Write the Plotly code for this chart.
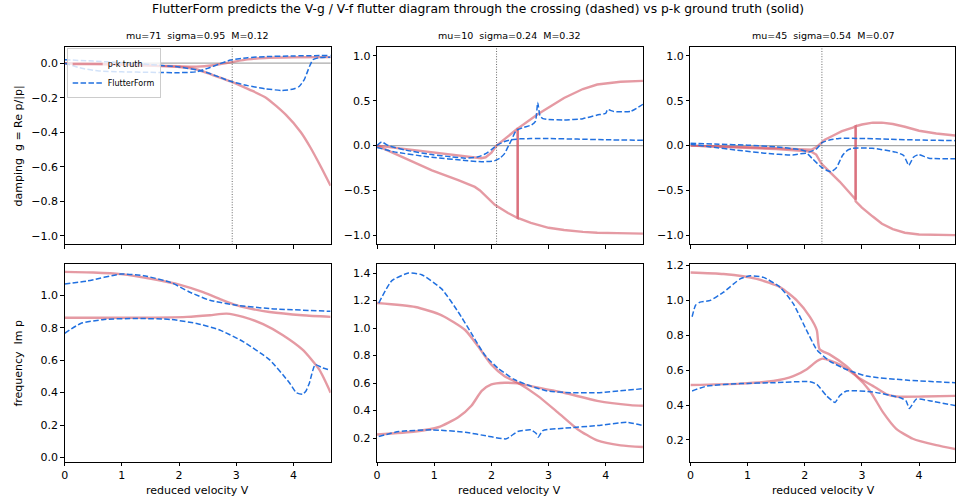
import plotly.graph_objects as go

# ---------------- data ----------------
# Top row: damping g = Re p/|p| ; bottom row: frequency Im p
panel_titles = ["mu=71  sigma=0.95  M=0.12", "mu=10  sigma=0.24  M=0.32", "mu=45  sigma=0.54  M=0.07"]
crossing_V = [2.93, 2.09, 2.30]

# Panel 1 (mu=71)
tl_truth1_V = [0, 0.5, 1.0, 1.5, 2.0, 2.3, 2.6, 2.9, 3.2, 3.5, 4.0, 4.65]
tl_truth1_g = [0.0, -0.003, -0.008, -0.013, -0.018, -0.02, -0.012, 0.005, 0.022, 0.03, 0.034, 0.035]
tl_truth2_V = [0, 0.5, 1.0, 1.5, 2.0, 2.3, 2.6, 2.9, 3.23, 3.52, 3.87, 4.13, 4.3, 4.48, 4.65]
tl_truth2_g = [0.0, -0.005, -0.01, -0.015, -0.022, -0.035, -0.07, -0.105, -0.153, -0.2, -0.3, -0.4, -0.49, -0.6, -0.71]
tl_model1_V = [0, 0.5, 1.0, 1.5, 2.0, 2.4, 2.7, 2.9, 3.2, 3.5, 3.8, 4.0, 4.1, 4.19, 4.28, 4.34, 4.45, 4.65]
tl_model1_g = [0.02, 0.012, 0.003, -0.008, -0.022, -0.045, -0.08, -0.105, -0.13, -0.148, -0.158, -0.15, -0.135, -0.095, -0.02, 0.02, 0.032, 0.035]
tl_model2_V = [0, 0.3, 0.6, 1.0, 1.5, 2.0, 2.3, 2.5, 2.7, 2.9, 3.2, 3.5, 4.0, 4.65]
tl_model2_g = [0.0, -0.03, -0.045, -0.05, -0.053, -0.055, -0.05, -0.03, -0.005, 0.018, 0.032, 0.038, 0.042, 0.045]

bl_truth1_V = [0, 0.5, 0.98, 1.56, 2.02, 2.42, 2.77, 3.0, 3.3, 3.58, 4.16, 4.65]
bl_truth1_f = [1.146, 1.142, 1.132, 1.10, 1.065, 1.02, 0.97, 0.94, 0.915, 0.898, 0.878, 0.868]
bl_truth2_V = [0, 1.0, 2.14, 2.54, 2.83, 3.12, 3.47, 3.81, 4.16, 4.45, 4.65]
bl_truth2_f = [0.862, 0.862, 0.868, 0.878, 0.888, 0.868, 0.823, 0.756, 0.665, 0.543, 0.40]
bl_model1_V = [0, 0.4, 0.98, 1.38, 1.85, 2.19, 2.54, 3.0, 3.58, 4.65]
bl_model1_f = [1.071, 1.09, 1.132, 1.122, 1.081, 1.02, 0.97, 0.94, 0.919, 0.902]
bl_model2_V = [0, 0.28, 0.69, 1.27, 1.85, 2.31, 2.71, 3.12, 3.58, 3.93, 4.05, 4.16, 4.22, 4.28, 4.38, 4.51, 4.65]
bl_model2_f = [0.766, 0.827, 0.852, 0.858, 0.852, 0.827, 0.787, 0.715, 0.604, 0.461, 0.40, 0.39, 0.41, 0.46, 0.573, 0.553, 0.539]

# Panel 2 (mu=10)
tm_truth1_V = [0, 0.4, 0.8, 1.2, 1.6, 1.82, 1.9, 2.0, 2.09, 2.2, 2.35, 2.46, 2.46, 2.69, 3.0, 3.27, 3.6, 3.85, 4.2, 4.65]
tm_truth1_g = [0, -0.03, -0.06, -0.09, -0.123, -0.14, -0.13, -0.08, 0.0, 0.055, 0.13, 0.19, -0.806, -0.86, -0.915, -0.94, -0.96, -0.97, -0.975, -0.98]
tm_truth2_V = [0, 0.38, 0.96, 1.42, 1.71, 1.8, 1.88, 2.06, 2.29, 2.46, 2.46, 2.81, 3.27, 3.6, 3.85, 4.26, 4.65]
tm_truth2_g = [0, -0.11, -0.275, -0.385, -0.46, -0.5, -0.55, -0.66, -0.75, -0.806, 0.19, 0.35, 0.53, 0.63, 0.68, 0.71, 0.72]
tm_model1_V = [0, 0.08, 0.2, 0.5, 0.96, 1.3, 1.54, 1.77, 1.9, 2.0, 2.1, 2.23, 2.35, 2.5, 2.69, 3.0, 3.5, 4.0, 4.65]
tm_model1_g = [0, 0.04, 0.0, -0.05, -0.10, -0.125, -0.14, -0.125, -0.09, -0.045, 0.005, 0.045, 0.065, 0.075, 0.078, 0.078, 0.072, 0.065, 0.059]
tm_model2_V = [0, 0.3, 0.96, 1.54, 1.83, 2.05, 2.15, 2.23, 2.3, 2.35, 2.43, 2.55, 2.7, 2.77, 2.81, 2.85, 2.9, 3.0, 3.27, 3.6, 3.85, 4.0, 4.03, 4.14, 4.43, 4.65]
tm_model2_g = [-0.02, -0.07, -0.13, -0.165, -0.18, -0.17, -0.14, -0.09, 0.0, 0.06, 0.165, 0.2, 0.23, 0.27, 0.48, 0.33, 0.30, 0.29, 0.285, 0.3, 0.34, 0.36, 0.40, 0.38, 0.38, 0.46]

bm_truth1_V = [0, 0.67, 1.13, 1.54, 1.77, 2.0, 2.23, 2.46, 2.81, 3.16, 3.5, 3.85, 4.26, 4.65]
bm_truth1_f = [1.182, 1.153, 1.093, 0.986, 0.866, 0.734, 0.65, 0.602, 0.507, 0.387, 0.267, 0.183, 0.147, 0.135]
bm_truth2_V = [0, 0.67, 1.07, 1.42, 1.65, 1.83, 2.0, 2.23, 2.46, 2.69, 3.27, 3.85, 4.43, 4.65]
bm_truth2_f = [0.226, 0.248, 0.279, 0.351, 0.435, 0.543, 0.59, 0.602, 0.598, 0.578, 0.53, 0.471, 0.44, 0.435]
bm_model1_V = [0.03, 0.26, 0.55, 0.78, 1.13, 1.42, 1.65, 1.88, 2.11, 2.4, 2.69, 2.98, 3.39, 3.85, 4.65]
bm_model1_f = [1.182, 1.345, 1.40, 1.388, 1.285, 1.117, 0.962, 0.806, 0.71, 0.626, 0.578, 0.543, 0.53, 0.53, 0.559]
bm_model2_V = [0.03, 0.38, 0.96, 1.54, 1.94, 2.26, 2.46, 2.69, 2.78, 2.82, 2.9, 3.27, 3.85, 4.37, 4.65]
bm_model2_f = [0.212, 0.248, 0.26, 0.243, 0.214, 0.195, 0.248, 0.26, 0.236, 0.207, 0.255, 0.272, 0.291, 0.315, 0.291]

# Panel 3 (mu=45)
tr_truth1_V = [0, 0.5, 1.0, 1.5, 2.0, 2.12, 2.2, 2.26, 2.35, 2.49, 2.65, 2.84, 2.89, 2.89, 3.0, 3.19, 3.35, 3.54, 3.75, 4.0, 4.3, 4.65]
tr_truth1_g = [0.0, -0.008, -0.017, -0.028, -0.042, -0.045, -0.02, 0.018, 0.065, 0.11, 0.16, 0.2, 0.215, -0.62, -0.69, -0.79, -0.87, -0.93, -0.97, -0.99, -0.995, -0.997]
tr_truth2_V = [0, 0.5, 1.0, 1.5, 2.0, 2.12, 2.2, 2.29, 2.45, 2.61, 2.75, 2.89, 2.89, 3.0, 3.19, 3.35, 3.54, 3.75, 4.0, 4.3, 4.65]
tr_truth2_g = [0.0, -0.012, -0.025, -0.038, -0.06, -0.07, -0.1, -0.2, -0.3, -0.4, -0.5, -0.6, 0.215, 0.235, 0.256, 0.255, 0.24, 0.21, 0.165, 0.135, 0.11]
tr_model1_V = [0, 0.5, 1.0, 1.5, 1.91, 2.08, 2.2, 2.31, 2.45, 2.6, 2.95, 3.5, 4.0, 4.65]
tr_model1_g = [0.025, 0.015, 0.005, -0.015, -0.044, -0.07, -0.04, 0.035, 0.065, 0.08, 0.08, 0.07, 0.062, 0.055]
tr_model2_V = [0, 0.3, 0.87, 1.3, 1.79, 2.03, 2.14, 2.29, 2.4, 2.46, 2.55, 2.66, 2.75, 2.84, 3.18, 3.59, 3.73, 3.82, 3.9, 3.99, 4.17, 4.65]
tr_model2_g = [0.015, -0.01, -0.055, -0.085, -0.105, -0.085, -0.15, -0.24, -0.28, -0.29, -0.25, -0.11, -0.05, -0.03, -0.03, -0.073, -0.11, -0.22, -0.13, -0.10, -0.14, -0.146]

br_truth1_V = [0, 0.58, 1.16, 1.57, 1.86, 2.09, 2.21, 2.26, 2.44, 2.73, 2.93, 3.19, 3.43, 3.6, 4.07, 4.65]
br_truth1_f = [1.16, 1.151, 1.123, 1.075, 1.0, 0.906, 0.83, 0.72, 0.689, 0.623, 0.56, 0.51, 0.462, 0.449, 0.449, 0.453]
br_truth2_V = [0, 0.87, 1.45, 1.8, 2.03, 2.21, 2.31, 2.61, 2.9, 3.14, 3.37, 3.6, 3.89, 4.3, 4.65]
br_truth2_f = [0.515, 0.523, 0.538, 0.566, 0.604, 0.651, 0.666, 0.632, 0.566, 0.481, 0.358, 0.264, 0.207, 0.17, 0.147]
br_model1_V = [0.03, 0.09, 0.17, 0.35, 0.58, 0.87, 1.05, 1.28, 1.57, 1.8, 2.03, 2.21, 2.44, 2.73, 3.08, 3.77, 4.65]
br_model1_f = [0.906, 0.972, 0.99, 1.0, 1.047, 1.123, 1.141, 1.132, 1.075, 0.981, 0.83, 0.717, 0.651, 0.604, 0.566, 0.543, 0.528]
br_model2_V = [0.03, 0.29, 0.87, 1.45, 2.09, 2.21, 2.38, 2.53, 2.61, 2.73, 3.19, 3.66, 3.77, 3.83, 3.95, 4.18, 4.65]
br_model2_f = [0.481, 0.509, 0.523, 0.528, 0.534, 0.519, 0.453, 0.415, 0.453, 0.481, 0.475, 0.443, 0.425, 0.381, 0.434, 0.425, 0.396]

# ---------------- figure ----------------
W, H = 956, 503
TRUTH = dict(color="rgba(212,86,102,0.6)", width=2.4)
MODEL = dict(color="#2070e0", width=1.5, dash="5.5px,2.4px")
FONT = "DejaVu Sans, Verdana, sans-serif"
TICK_SIZE = 11
LABEL_SIZE = 11
SUBTITLE_SIZE = 9.5
TITLE_SIZE = 12.3

fig = go.Figure()

panels = [
    (1, [(tl_truth1_V, tl_truth1_g), (tl_truth2_V, tl_truth2_g)], [(tl_model1_V, tl_model1_g), (tl_model2_V, tl_model2_g)]),
    (2, [(tm_truth1_V, tm_truth1_g), (tm_truth2_V, tm_truth2_g)], [(tm_model1_V, tm_model1_g), (tm_model2_V, tm_model2_g)]),
    (3, [(tr_truth1_V, tr_truth1_g), (tr_truth2_V, tr_truth2_g)], [(tr_model1_V, tr_model1_g), (tr_model2_V, tr_model2_g)]),
    (4, [(bl_truth1_V, bl_truth1_f), (bl_truth2_V, bl_truth2_f)], [(bl_model1_V, bl_model1_f), (bl_model2_V, bl_model2_f)]),
    (5, [(bm_truth1_V, bm_truth1_f), (bm_truth2_V, bm_truth2_f)], [(bm_model1_V, bm_model1_f), (bm_model2_V, bm_model2_f)]),
    (6, [(br_truth1_V, br_truth1_f), (br_truth2_V, br_truth2_f)], [(br_model1_V, br_model1_f), (br_model2_V, br_model2_f)]),
]


def has_jump(v):
    return any(v[i] == v[i + 1] for i in range(len(v) - 1))


for idx, truths, models in panels:
    xa = "x" if idx == 1 else f"x{idx}"
    ya = "y" if idx == 1 else f"y{idx}"
    for k, (vx, vy) in enumerate(truths):
        shape = "linear" if has_jump(vx) else "spline"
        fig.add_trace(go.Scatter(x=vx, y=vy, mode="lines", line=dict(TRUTH, shape=shape, smoothing=0.6),
                                 xaxis=xa, yaxis=ya, name="p-k truth", showlegend=(idx == 1 and k == 0)))
    for k, (vx, vy) in enumerate(models):
        fig.add_trace(go.Scatter(x=vx, y=vy, mode="lines", line=dict(MODEL, shape="spline", smoothing=0.5),
                                 xaxis=xa, yaxis=ya, name="FlutterForm", showlegend=(idx == 1 and k == 0)))


def px_x(a, b):
    return [a / W, min(b / W, 1.0)]


def px_y(top, bottom):
    return [1 - bottom / H, 1 - top / H]


xdom = [px_x(61, 328.3), px_x(375, 642.3), px_x(690, 957.3)]
xrng = [[0, 4.65], [0, 4.65], [0, (956 - 690) / 57.48]]
ydom_top = px_y(43.3, 243.3)
ydom_bot = px_y(262.7, 463.3)

yranges = [[-1.05, 0.095], [-1.1, 1.1], [-1.1, 1.1], [-0.027, 1.197], [0.028, 1.469], [0.075, 1.211]]
ydticks = [0.2, 0.5, 0.5, 0.2, 0.2, 0.2]
ytick0 = [-1.0, -1.0, -1.0, 0.0, 0.2, 0.2]

axis_common = dict(showline=True, linecolor="#000", linewidth=0.8, mirror=True, ticks="outside",
                   ticklen=3.5, tickwidth=0.8, tickcolor="#000", showgrid=False, zeroline=False,
                   tickfont=dict(family=FONT, size=TICK_SIZE, color="#000"))

layout = {}
for i in range(6):
    col = i % 3
    row = i // 3
    n = "" if i == 0 else str(i + 1)
    layout[f"xaxis{n}"] = dict(axis_common, domain=xdom[col], range=xrng[col], anchor=f"y{n}",
                               tick0=0, dtick=1, showticklabels=(row == 1))
    layout[f"yaxis{n}"] = dict(axis_common, domain=ydom_top if row == 0 else ydom_bot,
                               range=yranges[i], anchor=f"x{n}", tick0=ytick0[i], dtick=ydticks[i],
                               tickformat=".1f")
fig.update_layout(**layout)

shapes = []
for col in range(3):
    n = "" if col == 0 else str(col + 1)
    shapes.append(dict(type="line", xref=f"x{n} domain", yref=f"y{n}", x0=0, x1=1, y0=0, y1=0,
                       line=dict(color="#aaaaaa", width=1.2), layer="below"))
    shapes.append(dict(type="line", xref=f"x{n}", yref=f"y{n} domain", x0=crossing_V[col], x1=crossing_V[col],
                       y0=0, y1=1, line=dict(color="#444444", width=0.8, dash="1px,1.6px")))

annotations = []
for col in range(3):
    cx = (xdom[col][0] + xdom[col][1]) / 2 if col < 2 else (690 + 957.3) / 2 / W
    annotations.append(dict(text=panel_titles[col], x=cx, y=1 - 32 / H, xref="paper", yref="paper",
                            showarrow=False, xanchor="center", yanchor="middle",
                            font=dict(family=FONT, size=SUBTITLE_SIZE, color="#000")))
    annotations.append(dict(text="reduced velocity V", x=cx, y=1 - 492 / H, xref="paper", yref="paper",
                            showarrow=False, xanchor="center", yanchor="middle",
                            font=dict(family=FONT, size=LABEL_SIZE, color="#000")))
annotations.append(dict(text="damping  g = Re p/|p|", x=15 / W, y=sum(ydom_top) / 2, xref="paper", yref="paper",
                        showarrow=False, textangle=-90, xanchor="center", yanchor="middle",
                        font=dict(family=FONT, size=LABEL_SIZE, color="#000")))
annotations.append(dict(text="frequency  Im p", x=15 / W, y=sum(ydom_bot) / 2, xref="paper", yref="paper",
                        showarrow=False, textangle=-90, xanchor="center", yanchor="middle",
                        font=dict(family=FONT, size=LABEL_SIZE, color="#000")))

fig.update_layout(
    width=W, height=H,
    margin=dict(l=0, r=0, t=0, b=0),
    paper_bgcolor="white", plot_bgcolor="white",
    title=dict(text="FlutterForm predicts the V-g / V-f flutter diagram through the crossing (dashed) vs p-k ground truth (solid)",
               x=0.5, xanchor="center", y=1 - 8.5 / H, yanchor="middle",
               font=dict(family=FONT, size=TITLE_SIZE, color="#000")),
    shapes=shapes, annotations=annotations,
    legend=dict(x=63 / W, y=1 - 45 / H, xanchor="left", yanchor="top",
                bgcolor="rgba(255,255,255,0.8)", bordercolor="#cccccc", borderwidth=1,
                font=dict(family=FONT, size=8, color="#000"), tracegroupgap=0,
                itemwidth=30),
    showlegend=True,
)

# remove the browser's default page margin so the figure sits at the window's top-left corner
fig.write_html("out.html", config={"displayModeBar": False},
               post_script="document.body.style.margin='0';document.body.style.padding='0';")
